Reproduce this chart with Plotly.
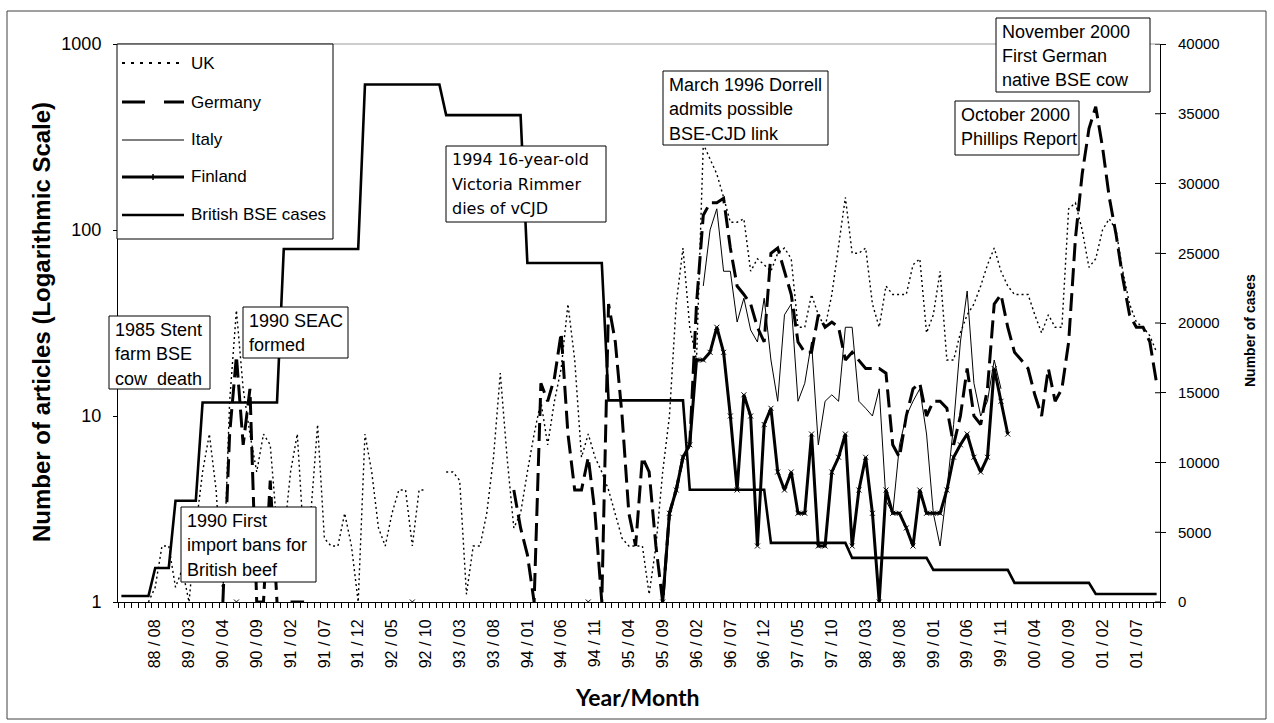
import plotly.graph_objects as go

# ---------------------------------------------------------------------------
# Monthly press coverage of BSE (number of articles, log scale) and yearly
# British BSE case counts (right axis). One category per month; the first
# twelve categories cover 1987-1989 more sparsely.
# ---------------------------------------------------------------------------
TICK_LABELS = [
    "88 / 08", "89 / 03", "90 / 04", "90 / 09", "91 / 02", "91 / 07",
    "91 / 12", "92 / 05", "92 / 10", "93 / 03", "93 / 08", "94 / 01",
    "94 / 06", "94 / 11", "95 / 04", "95 / 09", "96 / 02", "96 / 07",
    "96 / 12", "97 / 05", "97 / 10", "98 / 03", "98 / 08", "99 / 01",
    "99 / 06", "99 / 11", "00 / 04", "00 / 09", "01 / 02", "01 / 07",
]

N = None

UK = [
    N, N, N, N, 1.0, 1.2, 2, 2, 1.2, 1.5, 1.0, 2.5,
    5, 8, 4, 1.1, 12, 37, 14, 8, 5, 8, 7, 2.5,
    2.2, 5, 8, 2, 3, 9, 2.2, 2, 2, 3, 2, 1,
    8, 5, 2.5, 2, 3, 4, 4, 2, 4, 4, N, N,
    5, 5, 4.5, 1.1, 2, 2, 3, 6, 17, 6, 2.5, 3,
    5, 8, 12, 7, 12, 18, 40, 20, 6, 8, 6, 5,
    4, 3, 2.2, 2, 2, 2, 1.1, 2, 5, 10, 40, 80,
    30, 20, 290, 240, 200, 150, 110, 110, 115, 60, 70, 65,
    60, 75, 80, 70, 30, 30, 45, 35, 30, 45, 80, 150,
    75, 75, 80, 40, 30, 50, 45, 45, 45, 65, 70, 28,
    35, 60, 20, 20, 28, 35, 40, 50, 65, 80, 60, 50,
    45, 45, 45, 35, 28, 35, 30, 30, 130, 140, 100, 63,
    70, 100, 115, 100, 60, 40, 32, 30, 27, 22,
]

GERMANY = [
    N, N, N, N, N, N, N, N, N, N, N, N,
    N, N, N, 1, 8, 21, 7, 14, 1, 1, 4.5, 1,
    N, 1, 1, 1, N, N, N, N, N, N, N, N,
    N, N, N, N, N, N, N, N, N, N, N, N,
    N, N, N, N, N, N, N, N, N, N, 4, 2.5,
    1.8, 1, 15, 12, 16, 28, 8, 4, 4, 6, 3, 1,
    40, 25, 10, 3, 2, 6, 5, 2, 1, 3, 4, 6,
    7, 40, 120, 140, 140, 148, 80, 50, 45, 40, 30, 25,
    75, 80, 60, 45, 25, 22, 22, 35, 30, 32, 30, 20,
    22, 20, 18, 18, 18, 17, 7, 6, 10, 14, 15, 10,
    12, 12, 11, 7, 10, 18, 10, 9, 14, 40, 45, 30,
    22, 20, 18, 13, 10, 18, 12, 14, 25, 90, 200, 350,
    460, 280, 150, 95, 55, 35, 30, 30, 25, 15,
]

ITALY = [
    N, N, N, N, N, N, N, N, N, N, N, N,
    N, N, N, N, N, N, N, N, N, N, N, N,
    N, N, N, N, N, N, N, N, N, N, N, N,
    N, N, N, N, N, N, N, N, N, N, N, N,
    N, N, N, N, N, N, N, N, N, N, N, N,
    N, N, N, N, N, N, N, N, N, N, N, N,
    N, N, N, N, N, N, N, N, N, N, N, N,
    N, N, 50, 100, 130, 60, 60, 32, 43, 29, 25, 43,
    20, 12, 35, 40, 12, 15, 25, 7, 12, 13, 12, 30,
    30, 12, 11, 10, 14, 3.5, 3, 7, 10, 12, 14, 8,
    3, 2, 4, 9, 25, 47, 15, 10, 12, 20, 14, N,
    N, N, N, N, N, N, N, N, N, N, N, N,
    N, N, N, N, N, N, N, N, N, N,
]

FINLAND = [
    N, N, N, N, N, N, N, N, N, N, N, N,
    N, N, N, N, N, 1, N, N, N, N, N, N,
    N, N, N, N, N, N, N, N, N, N, N, N,
    N, N, N, N, N, N, N, 1, N, N, N, N,
    N, N, N, N, N, N, N, N, N, N, N, N,
    N, N, N, N, N, N, N, N, N, 1, N, N,
    N, N, N, N, N, N, N, N, 1, 3, 4, 6,
    7, 20, 20, 22, 30, 22, 10, 4, 13, 10, 2, 9,
    11, 5, 4, 5, 3, 3, 8, 2, 2, 5, 6, 8,
    2, 4, 6, 3, 1, 4, 3, 3, 2.5, 2, 4, 3,
    3, 3, 4, 6, 7, 8, 6, 5, 6, 18, 12, 8,
    N, N, N, N, N, N, N, N, N, N, N, N,
    N, N, N, N, N, N, N, N, N, N,
]

BSE_CASES = [
    430, 430, 430, 430, 430, 2440, 2440, 2440, 7260, 7260, 7260, 7260,
    14300, 14300, 14300, 14300, 14300, 14300, 14300, 14300, 14300, 14300, 14300, 14300,
    25300, 25300, 25300, 25300, 25300, 25300, 25300, 25300, 25300, 25300, 25300, 25300,
    37100, 37100, 37100, 37100, 37100, 37100, 37100, 37100, 37100, 37100, 37100, 37100,
    34900, 34900, 34900, 34900, 34900, 34900, 34900, 34900, 34900, 34900, 34900, 34900,
    24300, 24300, 24300, 24300, 24300, 24300, 24300, 24300, 24300, 24300, 24300, 24300,
    14450, 14450, 14450, 14450, 14450, 14450, 14450, 14450, 14450, 14450, 14450, 14450,
    8050, 8050, 8050, 8050, 8050, 8050, 8050, 8050, 8050, 8050, 8050, 8050,
    4240, 4240, 4240, 4240, 4240, 4240, 4240, 4240, 4240, 4240, 4240, 4240,
    3160, 3160, 3160, 3160, 3160, 3160, 3160, 3160, 3160, 3160, 3160, 3160,
    2300, 2300, 2300, 2300, 2300, 2300, 2300, 2300, 2300, 2300, 2300, 2300,
    1370, 1370, 1370, 1370, 1370, 1370, 1370, 1370, 1370, 1370, 1370, 1370,
    575, 575, 575, 575, 575, 575, 575, 575, 575, 575,
]

RIGHT_TICKS = [0, 5000, 10000, 15000, 20000, 25000, 30000, 35000, 40000]
LEFT_TICKS = [1, 10, 100, 1000]

EVENTS = [
    (["1985 Stent", "farm BSE", "cow  death"], (109, 316, 210, 389), "Liberation Sans"),
    (["1990 SEAC", "formed"], (243, 307, 348, 358), "Liberation Sans"),
    (["1990 First", "import bans for", "British beef"], (181, 507, 316, 582), "Liberation Sans"),
    (["1994 16-year-old", "Victoria Rimmer", "dies of vCJD"], (446, 146, 606, 222), "DejaVu Sans"),
    (["March 1996 Dorrell", "admits possible", "BSE-CJD link"], (663, 71, 828, 145), "Liberation Sans"),
    (["October 2000", "Phillips Report"], (955, 101, 1079, 155), "Liberation Sans"),
    (["November 2000", "First German", "native BSE cow"], (996, 18, 1150, 92), "Liberation Sans"),
]

# ---------------------------------------------------------------------------
W, H = 1274, 723
PL, PR, PT, PB = 118, 1160, 44, 602          # plot-area edges in pixels


def px(x):
    return (x - PL) / (PR - PL)


def py(y):
    return (PB - y) / (PB - PT)


x = list(range(len(BSE_CASES)))
tick_pos = list(range(5, len(BSE_CASES), 5))[:len(TICK_LABELS)]

UK_STYLE = dict(color="black", width=1.4, dash="2px,3px")
DE_STYLE = dict(color="black", width=3, dash="18px,7px")
IT_STYLE = dict(color="black", width=1)
FI_STYLE = dict(color="black", width=3)
BSE_STYLE = dict(color="black", width=2.6)

fig = go.Figure()
fig.add_trace(go.Scatter(x=x, y=BSE_CASES, yaxis="y2", mode="lines",
                         line=BSE_STYLE, name="British BSE cases"))
fig.add_trace(go.Scatter(x=x, y=UK, mode="lines", line=UK_STYLE, name="UK"))
fig.add_trace(go.Scatter(x=x, y=ITALY, mode="lines", line=IT_STYLE, name="Italy"))
fig.add_trace(go.Scatter(x=x, y=FINLAND, mode="lines+markers", line=FI_STYLE,
                         marker=dict(symbol="x-thin", size=5, color="black",
                                     line=dict(width=1, color="black")),
                         name="Finland"))
fig.add_trace(go.Scatter(x=x, y=GERMANY, mode="lines", line=DE_STYLE, name="Germany"))

shapes = []
annotations = []

# outer frame and top border line of the plot area
shapes.append(dict(type="rect", xref="paper", yref="paper",
                   x0=px(7), x1=px(1266), y0=py(719), y1=py(11),
                   line=dict(color="#404040", width=1), layer="below"))
shapes.append(dict(type="line", xref="paper", yref="paper",
                   x0=0, x1=1, y0=1, y1=1,
                   line=dict(color="#9a9a9a", width=1), layer="below"))

# inner halves of the right-axis tick marks (ticks cross the axis line)
for v in RIGHT_TICKS:
    shapes.append(dict(type="line", xref="paper", yref="y2",
                       x0=1 - 5 / (PR - PL), x1=1, y0=v, y1=v,
                       line=dict(color="black", width=1), layer="above"))

# legend
LEG_BOX = (117, 44, 333, 239)
shapes.append(dict(type="rect", xref="paper", yref="paper",
                   x0=px(LEG_BOX[0]), x1=px(LEG_BOX[2]),
                   y0=py(LEG_BOX[3]), y1=py(LEG_BOX[1]),
                   line=dict(color="black", width=1), fillcolor="white",
                   layer="above"))
legend_items = [("UK", dict(UK_STYLE, width=2, dash="3px,6px"), 63),
                ("Germany", dict(DE_STYLE, dash="23px,19px"), 102),
                ("Italy", IT_STYLE, 140), ("Finland", FI_STYLE, 177),
                ("British BSE cases", BSE_STYLE, 215)]
for label, style, ly in legend_items:
    shapes.append(dict(type="line", xref="paper", yref="paper",
                       x0=px(122), x1=px(184), y0=py(ly), y1=py(ly),
                       line=style, layer="above"))
    if label == "Finland":
        shapes.append(dict(type="line", xref="paper", yref="paper",
                           x0=px(153), x1=px(153), y0=py(ly - 3), y1=py(ly + 3),
                           line=dict(color="black", width=1.5), layer="above"))
    annotations.append(dict(xref="paper", yref="paper", x=px(189), y=py(ly),
                            xanchor="left", yanchor="middle", text=label,
                            showarrow=False,
                            font=dict(family="Liberation Sans", size=17,
                                      color="black")))

# event boxes, one annotation per text line
for lines, (l, t, r, b), fam in EVENTS:
    shapes.append(dict(type="rect", xref="paper", yref="paper",
                       x0=px(l), x1=px(r), y0=py(b), y1=py(t),
                       line=dict(color="black", width=1), fillcolor="white",
                       layer="above"))
    for k, line in enumerate(lines):
        annotations.append(dict(xref="paper", yref="paper",
                                x=px(l + 4), y=py(t + 13.5 + 24.5 * k),
                                xanchor="left", yanchor="middle", align="left",
                                text=line, showarrow=False,
                                font=dict(family=fam,
                                          size=16 if fam == "DejaVu Sans" else 18,
                                          color="black")))

# axis titles
annotations.append(dict(xref="paper", yref="paper", x=px(41), y=py(322),
                        xanchor="center", yanchor="middle",
                        text="<b>Number of articles (Logarithmic Scale)</b>",
                        textangle=-90, showarrow=False,
                        font=dict(family="Liberation Sans", size=24, color="black")))
annotations.append(dict(xref="paper", yref="paper", x=px(1250), y=py(331),
                        xanchor="center", yanchor="middle",
                        text="<b>Number of cases</b>", textangle=-90,
                        showarrow=False,
                        font=dict(family="Liberation Sans", size=14, color="black")))
annotations.append(dict(xref="paper", yref="paper", x=px(637), y=py(697),
                        xanchor="center", yanchor="middle",
                        text="<b>Year/Month</b>", showarrow=False,
                        font=dict(family="Lato", size=23, color="black")))

fig.update_layout(
    width=W, height=H,
    margin=dict(l=PL, r=W - PR, t=PT, b=H - PB, pad=0),
    paper_bgcolor="white", plot_bgcolor="white",
    showlegend=False,
    shapes=shapes, annotations=annotations,
    xaxis=dict(range=[-0.5, len(BSE_CASES) - 0.5], showgrid=False, zeroline=False,
               showline=True, linecolor="black", linewidth=1,
               tickmode="array", tickvals=tick_pos, ticktext=TICK_LABELS,
               ticks="", tickangle=-90, ticklabelstandoff=10,
               tickfont=dict(family="Liberation Sans", size=16, color="black"),
               minor=dict(ticks="outside", tick0=-0.5, dtick=1, ticklen=5,
                          tickcolor="black", tickwidth=1, showgrid=False)),
    yaxis=dict(type="log", range=[0, 3], showgrid=False, zeroline=False,
               showline=True, linecolor="black", linewidth=1,
               tickmode="array", tickvals=LEFT_TICKS,
               ticktext=[str(v) for v in LEFT_TICKS],
               ticks="outside", ticklen=4, tickcolor="black",
               ticklabelstandoff=8,
               tickfont=dict(family="Liberation Sans", size=18, color="black")),
    yaxis2=dict(overlaying="y", side="right", range=[0, 40000],
                showgrid=False, zeroline=False,
                showline=True, linecolor="black", linewidth=1,
                tickmode="array", tickvals=RIGHT_TICKS,
                ticktext=[str(v) for v in RIGHT_TICKS],
                ticks="outside", ticklen=5, tickcolor="black",
                ticklabelstandoff=9,
                tickfont=dict(family="Liberation Sans", size=15, color="black")),
)

fig.write_html("out.html")
